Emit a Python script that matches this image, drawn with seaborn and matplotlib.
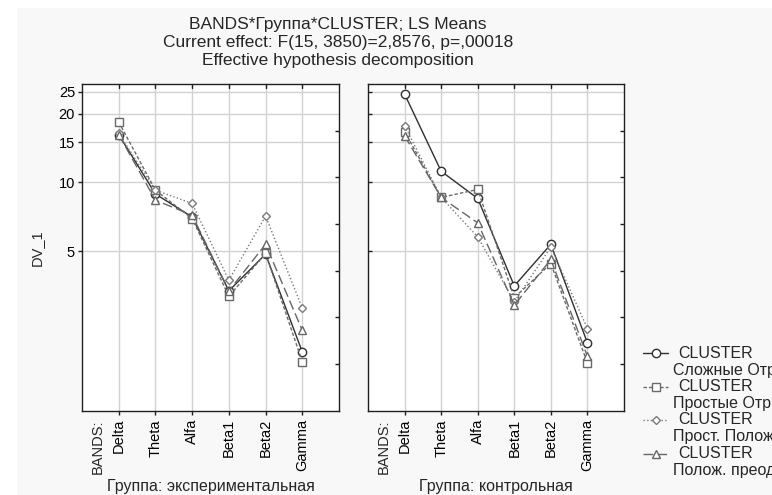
import numpy as np
import pandas as pd
import matplotlib
matplotlib.use("Agg")
import matplotlib.pyplot as plt
import seaborn as sns
from matplotlib.lines import Line2D
from matplotlib.patches import Rectangle
from matplotlib import transforms
from matplotlib.ticker import FixedLocator, NullLocator, FixedFormatter

# ---------------- data ----------------
bands = ["Delta", "Theta", "Alfa", "Beta1", "Beta2", "Gamma"]
groups = ["Группа: экспериментальная", "Группа: контрольная"]
cluster_names = ["Сложные Отрицательные", "Простые Отрицательные",
                 "Прост. Положительные", "Полож. преодолевающие"]

exp_slozh = [16.2, 8.9, 7.06, 3.35, 4.85, 1.81]
exp_prost = [18.4, 9.25, 6.95, 3.17, 4.89, 1.64]
exp_prpol = [16.4, 9.25, 8.09, 3.73, 7.12, 2.82]
exp_polpr = [16.2, 8.36, 7.19, 3.35, 5.36, 2.25]

ctl_slozh = [24.4, 11.2, 8.51, 3.52, 5.36, 1.98]
ctl_prost = [16.7, 8.6, 9.32, 3.13, 4.41, 1.62]
ctl_prpol = [17.7, 8.6, 5.77, 3.00, 5.22, 2.29]
ctl_polpr = [16.0, 8.6, 6.65, 2.90, 4.60, 1.73]

y_ticks = [5, 10, 15, 20, 25]
y_tick_labels = ["5", "10", "15", "20", "25"]

title_lines = ["BANDS*Группа*CLUSTER; LS Means",
               "Current effect: F(15, 3850)=2,8576, p=,00018",
               "Effective hypothesis decomposition"]

# ---------------- style ----------------
sns.set_theme(style="ticks")
plt.rcParams["font.family"] = ["Liberation Sans", "DejaVu Sans"]
FS = 10.5
FS_TITLE = 12.5
FS_GROUP = 11.5
FS_LEG = 11.5

styles = [
    dict(color="#303030", marker="o", linestyle="-", markersize=6.0),
    dict(color="#6a6a6a", marker="s", linestyle=(0, (2.5, 1.5)), markersize=5.5),
    dict(color="#7a7a7a", marker="D", linestyle=(0, (1, 1.6)), markersize=4.5),
    dict(color="#666666", marker="^", linestyle=(0, (7, 3)), markersize=5.5),
]

rows = []
for g, sets in zip(groups, [[exp_slozh, exp_prost, exp_prpol, exp_polpr],
                            [ctl_slozh, ctl_prost, ctl_prpol, ctl_polpr]]):
    for cname, vals in zip(cluster_names, sets):
        for i, (b, v) in enumerate(zip(bands, vals)):
            rows.append(dict(group=g, cluster=cname, band=b, pos=i + 1, value=v))
df = pd.DataFrame(rows)

W, H = 772, 495
fig = plt.figure(figsize=(W / 100, H / 100), dpi=100, facecolor="white")
fig.patches.append(Rectangle((17 / W, 0), 1, 1 - 8 / H, transform=fig.transFigure,
                             facecolor="#f8f8f8", edgecolor="none", zorder=-10))

top_px, bot_px = 84, 410.7
axes_px = [(82, 339), (368, 624)]
axes = []
for k, (l, r) in enumerate(axes_px):
    ax = fig.add_axes([l / W, 1 - bot_px / H, (r - l) / W, (bot_px - top_px) / H])
    ax.set_facecolor("white")
    ax.set_yscale("log")
    axes.append(ax)

plot_order = [1, 2, 3, 0]  # draw solid circle line on top
for ax, g in zip(axes, groups):
    sub = df[df.group == g]
    for ci in plot_order:
        st = styles[ci]
        d = sub[sub.cluster == cluster_names[ci]]
        sns.lineplot(data=d, x="pos", y="value", ax=ax, sort=False,
                     color=st["color"], marker=st["marker"], linestyle=st["linestyle"],
                     markersize=st["markersize"], markerfacecolor="white",
                     markeredgecolor=st["color"], markeredgewidth=1.0,
                     linewidth=1.0, legend=False, zorder=3 + ci)

for k, ax in enumerate(axes):
    ax.set_xlim(0, 7)
    ax.set_ylim(1, 27)
    ax.set_xticks(range(1, len(bands) + 1))
    ax.set_xticklabels(bands, rotation=90, fontsize=FS, color="black")
    ax.yaxis.set_major_locator(FixedLocator(y_ticks))
    ax.yaxis.set_minor_locator(NullLocator())
    ax.set_xlabel("")
    ax.set_ylabel("")
    ax.grid(True, color="#d2d2d2", linewidth=1.0, zorder=0)
    ax.set_axisbelow(True)
    for s in ax.spines.values():
        s.set_visible(True)
        s.set_color("#202020")
        s.set_linewidth(1.0)
    ax.tick_params(axis="x", which="major", bottom=True, top=False, direction="out",
                   length=3, width=1, pad=3, colors="#202020", labelcolor="black")
    if k == 0:
        ax.yaxis.set_major_formatter(FixedFormatter(y_tick_labels))
        ax.tick_params(axis="y", which="major", left=True, right=False, direction="out",
                       length=3, width=1, pad=2, labelsize=FS, colors="#202020",
                       labelcolor="black")
    else:
        ax.tick_params(axis="y", which="major", left=True, right=False, direction="in",
                       length=3, width=1, labelleft=False, colors="#202020")
    tr = transforms.blended_transform_factory(ax.transData, ax.transAxes)
    # top ticks pointing inward
    for i in range(1, len(bands) + 1):
        ax.plot([i, i], [1, 1 - 4 / (bot_px - top_px)], transform=tr, color="#202020",
                lw=1, clip_on=False, zorder=6)
    # right side linear ticks
    axr = ax.twinx()
    axr.set_ylim(0, 7)
    axr.set_yticks(range(1, 7))
    axr.tick_params(axis="y", direction="in", length=3, width=1, labelright=False,
                    colors="#202020")
    axr.grid(False)
    for s in axr.spines.values():
        s.set_visible(False)
    # BANDS: label
    ax.text(0.43, -(419 - bot_px) / (bot_px - top_px), "BANDS:", transform=tr,
            rotation=90, ha="center", va="top", fontsize=FS)
    # group label
    l, r = axes_px[k]
    fig.text((l + r) / 2 / W, 1 - 486 / H, groups[k], ha="center", va="center",
             fontsize=FS_GROUP)

fig.text(37 / W, 1 - 248 / H, "DV_1", rotation=90, ha="center", va="center", fontsize=FS)

for i, t in enumerate(title_lines):
    fig.text(338 / W, 1 - (25 + 17.8 * i) / H, t, ha="center", va="center",
             fontsize=FS_TITLE)

# legend (manual, figure coordinates)
for i, st in enumerate(styles):
    y = 353 + i * 33.5
    fy = 1 - y / H
    fig.add_artist(Line2D([643 / W, 668 / W], [fy, fy], color=st["color"],
                          linestyle=st["linestyle"], lw=1.0, transform=fig.transFigure))
    fig.add_artist(Line2D([655.5 / W], [fy], color=st["color"], marker=st["marker"],
                          markersize=st["markersize"], markerfacecolor="white",
                          markeredgecolor=st["color"], markeredgewidth=1.0,
                          linestyle="none", transform=fig.transFigure))
    fig.text(678 / W, fy, "CLUSTER", ha="left", va="center", fontsize=FS_LEG)
    fig.text(673 / W, 1 - (y + 17) / H, cluster_names[i], ha="left", va="center",
             fontsize=FS_LEG)

fig.savefig("out.png", dpi=100, facecolor="white")
